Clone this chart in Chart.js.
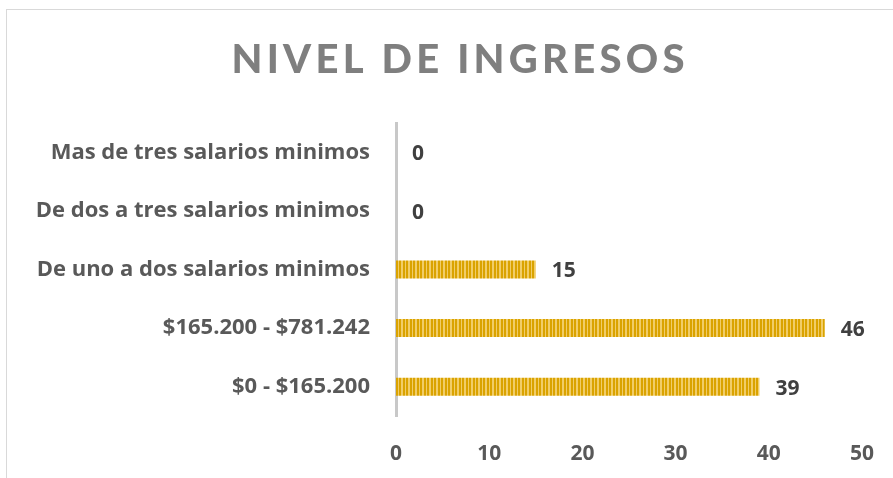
<!DOCTYPE html>
<html>
<head>
<meta charset="utf-8">
<script src="https://cdn.jsdelivr.net/npm/chart.js@4"></script>
<style>
  html, body { margin: 0; padding: 0; background: #fff; }
  #wrap { position: relative; width: 893px; height: 478px; overflow: hidden; }
  #frame { position: absolute; left: 6px; top: 9px; width: 1000px; height: 1000px; border: 1px solid #d9d9d9; box-sizing: border-box; }
  #c { position: absolute; left: 0; top: 0; }
</style>
</head>
<body>
<div id="wrap">
  <div id="frame"></div>
  <canvas id="c" width="893" height="478"></canvas>
</div>
<script>
/* Nivel de ingresos — horizontal bars */

const titleText  = 'NIVEL DE INGRESOS';
const categories = [
  'Mas de tres salarios minimos',
  'De dos a tres salarios minimos',
  'De uno a dos salarios minimos',
  '$165.200 - $781.242',
  '$0 - $165.200'
];
const values    = [0, 0, 15, 46, 39];
const xTicks    = [0, 10, 20, 30, 40, 50];

const FONT  = '"Open Sans", Lato, sans-serif';
const TFONT = 'Lato, "Open Sans", sans-serif';

// vertical stripe fill like the Excel pattern (~3.5px period)
function stripePattern() {
  const p = document.createElement('canvas');
  p.width = 7; p.height = 4;
  const g = p.getContext('2d');
  g.fillStyle = '#DAA300';
  g.fillRect(0, 0, 7, 4);
  g.fillStyle = '#F1CD68';
  g.fillRect(2, 0, 2, 4);
  g.fillRect(6, 0, 1, 4);
  return g.createPattern(p, 'repeat');
}

const titlePlugin = {
  id: 'spacedTitle',
  afterDraw(chart) {
    const ctx = chart.ctx;
    ctx.save();
    ctx.font = '900 40px ' + TFONT;
    ctx.fillStyle = '#7F7F7F';
    ctx.textAlign = 'center';
    ctx.textBaseline = 'alphabetic';
    const plain = ctx.measureText(titleText).width;
    const spacing = (453 - plain) / (titleText.length - 1);
    ctx.letterSpacing = spacing + 'px';
    ctx.fillText(titleText, 458 + spacing / 2, 73);
    ctx.restore();
  }
};

const valueLabels = {
  id: 'valueLabels',
  afterDatasetsDraw(chart) {
    const ctx = chart.ctx;
    const meta = chart.getDatasetMeta(0);
    ctx.save();
    ctx.font = 'bold 21px ' + FONT;
    ctx.fillStyle = '#404040';
    ctx.textAlign = 'left';
    ctx.textBaseline = 'middle';
    meta.data.forEach((bar, i) => {
      ctx.fillText(String(values[i]), bar.x + 16, bar.y + 2);
    });
    ctx.restore();
  }
};

new Chart(document.getElementById('c').getContext('2d'), {
  type: 'bar',
  data: {
    labels: categories,
    datasets: [{
      data: values,
      backgroundColor: stripePattern(),
      borderWidth: 0,
      inflateAmount: 0,
      barThickness: 18
    }]
  },
  options: {
    indexAxis: 'y',
    responsive: false,
    animation: false,
    layout: { padding: { top: 123, right: 31, left: 0, bottom: 0 } },
    plugins: {
      legend: { display: false },
      tooltip: { enabled: false },
      title: { display: false }
    },
    scales: {
      x: {
        min: 0, max: 50,
        afterBuildTicks: s => { s.ticks = xTicks.map(v => ({ value: v })); },
        grid: { display: false, drawTicks: false },
        border: { display: false },
        ticks: { color: '#595959', font: { family: FONT, size: 21, weight: 'bold' }, padding: 25 },
        afterFit: s => { s.height = 62; s.paddingLeft = 0; s.paddingRight = 0; }
      },
      y: {
        grid: { display: false, drawTicks: false },
        border: { display: true, color: '#C8C8C8', width: 3 },
        ticks: { color: '#595959', font: { family: FONT, size: 22, weight: 'bold' }, padding: 26 },
        afterFit: s => { s.width = 396; }
      }
    }
  },
  plugins: [titlePlugin, valueLabels]
});
</script>
</body>
</html>
